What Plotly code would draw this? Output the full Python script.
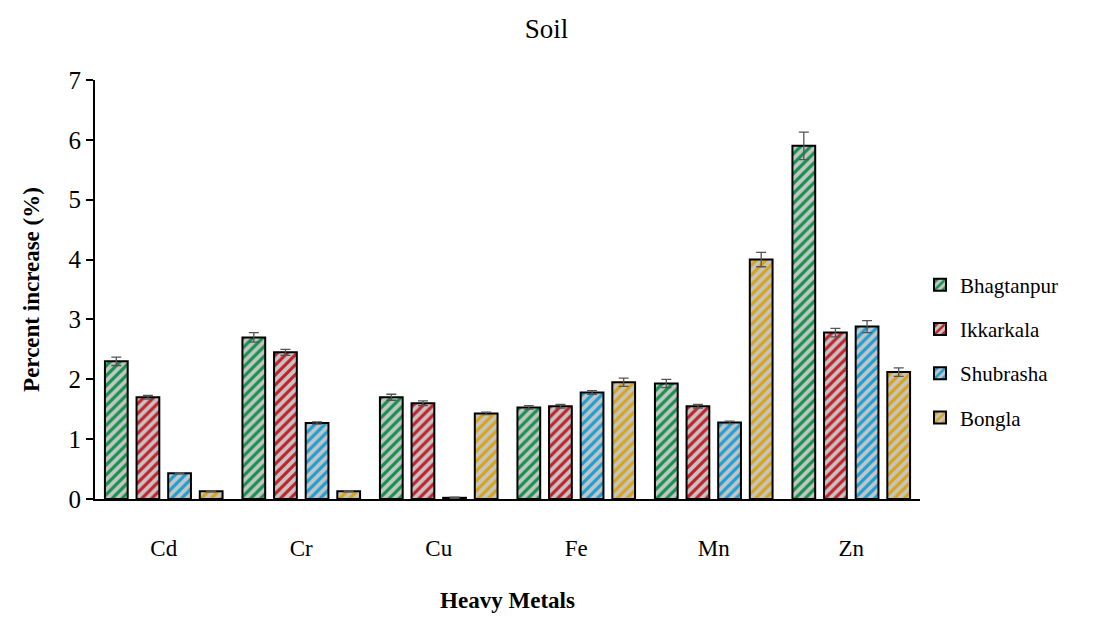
import plotly.graph_objects as go

metals = ["Cd", "Cr", "Cu", "Fe", "Mn", "Zn"]
sites = ["Bhagtanpur", "Ikkarkala", "Shubrasha", "Bongla"]

bhagtanpur = [2.30, 2.70, 1.70, 1.53, 1.93, 5.90]
ikkarkala = [1.70, 2.45, 1.60, 1.55, 1.55, 2.78]
shubrasha = [0.43, 1.27, 0.02, 1.78, 1.28, 2.88]
bongla = [0.13, 0.13, 1.43, 1.95, 4.00, 2.12]

err_bhagtanpur = [0.07, 0.08, 0.05, 0.03, 0.07, 0.23]
err_ikkarkala = [0.03, 0.05, 0.04, 0.03, 0.03, 0.07]
err_shubrasha = [0.01, 0.02, 0.01, 0.03, 0.02, 0.10]
err_bongla = [0.01, 0.01, 0.02, 0.07, 0.12, 0.07]

values = [bhagtanpur, ikkarkala, shubrasha, bongla]
errors = [err_bhagtanpur, err_ikkarkala, err_shubrasha, err_bongla]
colors = ["#12934a", "#c4202a", "#1a9fd6", "#d9a413"]

serif = "Liberation Serif, Times New Roman, serif"

fig = go.Figure()
for name, vals, errs, col in zip(sites, values, errors, colors):
    fig.add_trace(go.Bar(
        name=name, x=metals, y=vals, legendgroup=name,
        error_y=dict(type="data", array=errs, visible=True, color="#555555",
                     thickness=1.3, width=5),
        marker=dict(color="#c4c4c4",
                    line=dict(color="black", width=2),
                    pattern=dict(shape="/", fgcolor=col, bgcolor="#c4c4c4",
                                 size=7, solidity=0.45, fgopacity=1,
                                 fillmode="overlay")),
    ))

fig.update_layout(
    width=1099, height=611,
    paper_bgcolor="white", plot_bgcolor="white",
    margin=dict(l=87, r=187, t=72, b=120),
    barmode="group", bargap=0.08, bargroupgap=0.28,
    title=dict(text="Soil", x=0.49, xanchor="center", y=0.967, yanchor="middle",
               font=dict(family=serif, size=27, color="black")),
    font=dict(family=serif, color="black"),
    legend=dict(x=1.0, y=0.352, xanchor="left", yanchor="middle",
                font=dict(family=serif, size=21, color="black"),
                tracegroupgap=14, itemwidth=30),
    showlegend=True,
)
fig.update_xaxes(
    showline=True, linecolor="black", linewidth=2, automargin=False,
    ticks="", tickfont=dict(family=serif, size=23, color="black"),
    ticklabelstandoff=27,
    title=dict(text="<b>Heavy Metals</b>", font=dict(family=serif, size=23, color="black"),
               standoff=32),
    showgrid=False,
)
fig.update_yaxes(
    range=[0, 7], dtick=1, showline=True, linecolor="black", linewidth=2,
    ticks="outside", ticklen=7, tickwidth=2, tickcolor="black",
    tickfont=dict(family=serif, size=25, color="black"),
    title=dict(text="<b>Percent increase (%)</b>", font=dict(family=serif, size=23, color="black"),
               standoff=22),
    showgrid=False, zeroline=False,
)

fig.write_html("out.html")
